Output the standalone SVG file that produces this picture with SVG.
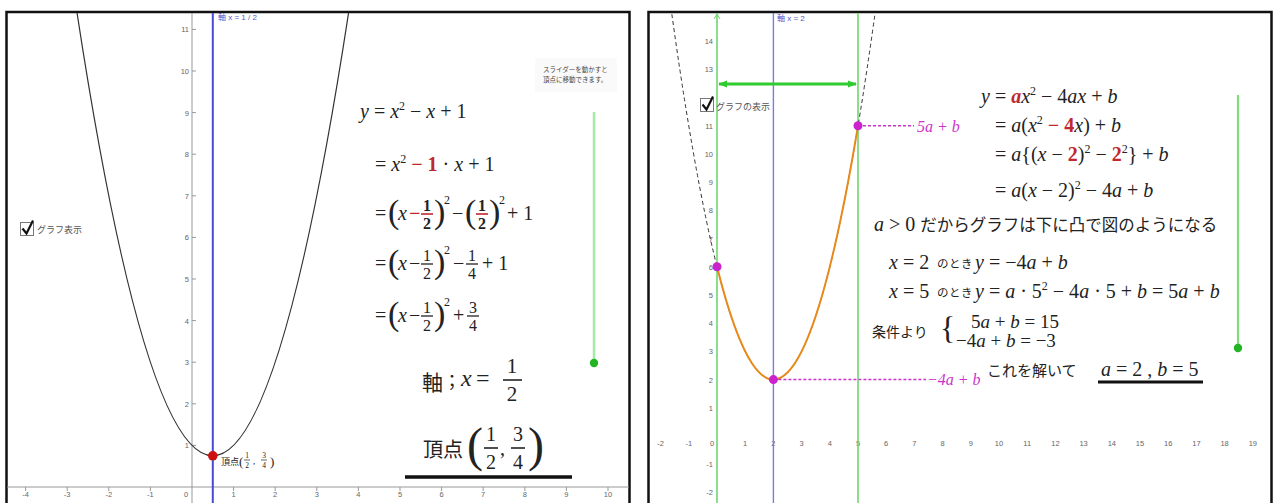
<svg xmlns="http://www.w3.org/2000/svg" width="1274" height="503" viewBox="0 0 1274 503">
<style>
.m{font-family:"Liberation Serif",serif;font-size:20px;fill:#222}
.i{font-style:italic}
.r{fill:#c0282d;font-weight:bold}
.sp{font-size:12px}
.fr{font-family:"Liberation Serif",serif;font-size:16px;fill:#222;text-anchor:middle}
.pa{font-family:"Liberation Serif",serif;font-size:34px;fill:#222}
.jp{font-family:"Noto Sans CJK JP",sans-serif;fill:#222}
.tk{font-family:"Liberation Sans",sans-serif;font-size:7.5px;fill:#666}
.tky{font-family:"Liberation Sans",sans-serif;font-size:7.5px;fill:#666;text-anchor:end}
.mg{font-family:"Liberation Serif",serif;font-size:16px;fill:#cc33cc;font-style:italic}
.bar{stroke:#222;stroke-width:1.3}
.rbar{stroke:#c0282d;stroke-width:1.6}
</style>
<defs>
<marker id="ga" viewBox="0 0 10 10" refX="9" refY="5" markerWidth="3" markerHeight="3" orient="auto-start-reverse">
<path d="M0,1 L10,5 L0,9 Z" fill="#2ecc2e"/>
</marker>
<clipPath id="clipL"><rect x="7" y="13" width="622" height="490"/></clipPath>
<clipPath id="clipR"><rect x="650" y="13" width="620" height="490"/></clipPath>
</defs>
<rect width="1274" height="503" fill="#fff"/>

<!-- LEFT PANEL -->
<g id="left-panel">
<rect x="6.5" y="12" width="623" height="500" fill="#fff" stroke="#111" stroke-width="2.5"/>
<g id="left-axes">
<line x1="192" y1="13" x2="192" y2="503" stroke="#999" stroke-width="1"/>
<line x1="7" y1="487" x2="629" y2="487" stroke="#999" stroke-width="1"/>
<g stroke="#999" stroke-width="1">
<path d="M25.6,487v4M67.2,487v4M108.8,487v4M150.4,487v4M233.6,487v4M275.2,487v4M316.8,487v4M358.4,487v4M400,487v4M441.6,487v4M483.2,487v4M524.8,487v4M566.4,487v4M608,487v4"/>
<path d="M192,445.4h4M192,403.8h4M192,362.2h4M192,320.6h4M192,279h4M192,237.4h4M192,195.8h4M192,154.2h4M192,112.6h4M192,71h4M192,29.4h4"/>
</g>
<g>
<text class="tk" x="25.6" y="497" text-anchor="middle">-4</text><text class="tk" x="67.2" y="497" text-anchor="middle">-3</text><text class="tk" x="108.8" y="497" text-anchor="middle">-2</text><text class="tk" x="150.4" y="497" text-anchor="middle">-1</text><text class="tk" x="186" y="497" text-anchor="middle">0</text><text class="tk" x="233.6" y="497" text-anchor="middle">1</text><text class="tk" x="275.2" y="497" text-anchor="middle">2</text><text class="tk" x="316.8" y="497" text-anchor="middle">3</text><text class="tk" x="358.4" y="497" text-anchor="middle">4</text><text class="tk" x="400" y="497" text-anchor="middle">5</text><text class="tk" x="441.6" y="497" text-anchor="middle">6</text><text class="tk" x="483.2" y="497" text-anchor="middle">7</text><text class="tk" x="524.8" y="497" text-anchor="middle">8</text><text class="tk" x="566.4" y="497" text-anchor="middle">9</text><text class="tk" x="608" y="497" text-anchor="middle">10</text>
</g>
<g>
<text class="tky" x="189" y="448">1</text><text class="tky" x="189" y="406.5">2</text><text class="tky" x="189" y="365">3</text><text class="tky" x="189" y="323.5">4</text><text class="tky" x="189" y="282">5</text><text class="tky" x="189" y="240">6</text><text class="tky" x="189" y="198.5">7</text><text class="tky" x="189" y="157">8</text><text class="tky" x="189" y="115.5">9</text><text class="tky" x="189" y="74">10</text><text class="tky" x="189" y="32">11</text>
</g>
</g>
<line id="left-axis-of-symmetry" x1="212.8" y1="13" x2="212.8" y2="503" stroke="#4a4ad6" stroke-width="2"/>
<text id="left-axis-label" x="218" y="20" font-family="'Liberation Sans','Noto Sans CJK JP',sans-serif" font-size="8" fill="#5555cc">軸 x = 1 / 2</text>
<path id="left-parabola" d="M75.5,2.8 Q212.8,908.8 350.1,2.8" fill="none" stroke="#333" stroke-width="1.2" clip-path="url(#clipL)"/>
<circle id="left-vertex" cx="212.8" cy="455.8" r="4.8" fill="#cc1111"/>
<g id="left-vertex-label">
<text x="221" y="465" class="jp" style="font-size:9px">頂点</text>
<text x="239" y="466" class="m" style="font-size:13px">(</text>
<text x="247" y="458" class="fr" style="font-size:7.5px">1</text><line x1="244" y1="460" x2="250" y2="460" class="bar" style="stroke-width:0.7"/><text x="247" y="467.5" class="fr" style="font-size:7.5px">2</text>
<text x="253" y="464" class="m" style="font-size:9px">,</text>
<text x="264" y="458" class="fr" style="font-size:7.5px">3</text><line x1="261" y1="460" x2="267" y2="460" class="bar" style="stroke-width:0.7"/><text x="264" y="467.5" class="fr" style="font-size:7.5px">4</text>
<text x="270" y="466" class="m" style="font-size:13px">)</text>
</g>
<g id="left-checkbox">
<rect x="20.5" y="222.5" width="13" height="13" fill="#fff" stroke="#777" stroke-width="1"/>
<path d="M22.5,228.5 L26.5,233.5 L33,220.5" fill="none" stroke="#111" stroke-width="2.2"/>
<text x="37" y="233" class="jp" style="font-size:9px;fill:#555">グラフ表示</text>
</g>
<g id="left-slider">
<rect x="535" y="58" width="82" height="34" fill="#fafafa"/>
<text x="543" y="72" class="jp" style="font-size:6.5px;fill:#444">スライダーを動かすと</text>
<text x="543" y="82" class="jp" style="font-size:6.5px;fill:#444">頂点に移動できます。</text>
<line x1="594" y1="112" x2="594" y2="363" stroke="#a8eaa8" stroke-width="2.5"/>
<circle cx="594" cy="363" r="4.2" fill="#22b422"/>
</g>
<g id="left-formula-1">
<text class="m" x="360" y="118"><tspan class="i">y</tspan> = <tspan class="i">x</tspan><tspan class="sp" dy="-8">2</tspan><tspan dy="8"> − </tspan><tspan class="i">x</tspan> + 1</text>
</g>
<g id="left-formula-2">
<text class="m" x="375" y="171">= <tspan class="i">x</tspan><tspan class="sp" dy="-8">2</tspan><tspan class="r" dy="8"> − 1</tspan> · <tspan class="i">x</tspan> + 1</text>
</g>
<g id="left-formula-3">
<text class="m" x="375" y="220">=</text>
<text class="pa" x="388" y="223">(</text>
<text class="m i" x="398" y="220">x</text>
<text class="m r" x="409" y="220">−</text>
<text class="fr r" x="427" y="211">1</text><line class="rbar" x1="421" y1="214" x2="433" y2="214"/><text class="fr r" x="427" y="229">2</text>
<text class="pa" x="434" y="223">)</text>
<text class="m sp" x="444" y="204">2</text>
<text class="m" x="452" y="220">−</text>
<text class="pa" x="465" y="223">(</text>
<text class="fr r" x="482" y="211">1</text><line class="rbar" x1="476" y1="214" x2="488" y2="214"/><text class="fr r" x="482" y="229">2</text>
<text class="pa" x="489" y="223">)</text>
<text class="m sp" x="499" y="204">2</text>
<text class="m" x="507" y="220">+ 1</text>
</g>
<g id="left-formula-4">
<text class="m" x="375" y="270">=</text>
<text class="pa" x="388" y="273">(</text>
<text class="m i" x="398" y="270">x</text>
<text class="m" x="409" y="270">−</text>
<text class="fr" x="427" y="261">1</text><line class="bar" x1="421" y1="264" x2="433" y2="264"/><text class="fr" x="427" y="279">2</text>
<text class="pa" x="434" y="273">)</text>
<text class="m sp" x="444" y="254">2</text>
<text class="m" x="453" y="270">−</text>
<text class="fr" x="472" y="261">1</text><line class="bar" x1="466" y1="264" x2="478" y2="264"/><text class="fr" x="472" y="279">4</text>
<text class="m" x="482" y="270">+ 1</text>
</g>
<g id="left-formula-5">
<text class="m" x="375" y="322">=</text>
<text class="pa" x="388" y="325">(</text>
<text class="m i" x="398" y="322">x</text>
<text class="m" x="409" y="322">−</text>
<text class="fr" x="427" y="313">1</text><line class="bar" x1="421" y1="316" x2="433" y2="316"/><text class="fr" x="427" y="331">2</text>
<text class="pa" x="434" y="325">)</text>
<text class="m sp" x="444" y="306">2</text>
<text class="m" x="453" y="322">+</text>
<text class="fr" x="473" y="313">3</text><line class="bar" x1="467" y1="316" x2="479" y2="316"/><text class="fr" x="473" y="331">4</text>
</g>
<g id="left-axis-result">
<text class="jp" x="422" y="390" style="font-size:21px">軸</text>
<text class="jp" x="452" y="388" style="font-size:18px" text-anchor="middle">；</text>
<text class="m i" x="461" y="386" style="font-size:24px">x</text>
<text class="m" x="476" y="386" style="font-size:24px">=</text>
<text class="fr" x="512" y="373" style="font-size:21px">1</text><line class="bar" x1="503" y1="380" x2="522" y2="380" style="stroke-width:1.6"/><text class="fr" x="512" y="401" style="font-size:21px">2</text>
</g>
<g id="left-vertex-result">
<text class="jp" x="423" y="457" style="font-size:20px">頂点</text>
<text class="pa" x="467" y="461" style="font-size:48px">(</text>
<text class="fr" x="491" y="441" style="font-size:20px">1</text><line class="bar" x1="484" y1="448" x2="498" y2="448" style="stroke-width:1.6"/><text class="fr" x="491" y="469" style="font-size:20px">2</text>
<text class="m" x="500" y="455">,</text>
<text class="fr" x="518" y="441" style="font-size:20px">3</text><line class="bar" x1="511" y1="448" x2="525" y2="448" style="stroke-width:1.6"/><text class="fr" x="518" y="469" style="font-size:20px">4</text>
<text class="pa" x="528" y="461" style="font-size:48px">)</text>
<line x1="405" y1="477" x2="572" y2="477" stroke="#111" stroke-width="3.5"/>
</g>
</g>

<!-- RIGHT PANEL -->
<g id="right-panel">
<rect x="648.5" y="12" width="623" height="500" fill="#fff" stroke="#111" stroke-width="2.5"/>
<g id="right-ticks">
<text class="tk" x="660.6" y="446" text-anchor="middle">-2</text><text class="tk" x="688.8" y="446" text-anchor="middle">-1</text><text class="tk" x="712" y="446" text-anchor="middle">0</text><text class="tk" x="745.2" y="446" text-anchor="middle">1</text><text class="tk" x="773.4" y="446" text-anchor="middle">2</text><text class="tk" x="801.6" y="446" text-anchor="middle">3</text><text class="tk" x="829.8" y="446" text-anchor="middle">4</text><text class="tk" x="858" y="446" text-anchor="middle">5</text><text class="tk" x="886.2" y="446" text-anchor="middle">6</text><text class="tk" x="914.4" y="446" text-anchor="middle">7</text><text class="tk" x="942.6" y="446" text-anchor="middle">8</text><text class="tk" x="970.8" y="446" text-anchor="middle">9</text><text class="tk" x="999" y="446" text-anchor="middle">10</text><text class="tk" x="1027.2" y="446" text-anchor="middle">11</text><text class="tk" x="1055.4" y="446" text-anchor="middle">12</text><text class="tk" x="1083.6" y="446" text-anchor="middle">13</text><text class="tk" x="1111.8" y="446" text-anchor="middle">14</text><text class="tk" x="1140" y="446" text-anchor="middle">15</text><text class="tk" x="1168.2" y="446" text-anchor="middle">16</text><text class="tk" x="1196.4" y="446" text-anchor="middle">17</text><text class="tk" x="1224.6" y="446" text-anchor="middle">18</text><text class="tk" x="1252.8" y="446" text-anchor="middle">19</text>
<text class="tky" x="713" y="44">14</text><text class="tky" x="713" y="72">13</text><text class="tky" x="713" y="128.5">11</text><text class="tky" x="713" y="157">10</text><text class="tky" x="713" y="185">9</text><text class="tky" x="713" y="213">8</text><text class="tky" x="713" y="241.5">7</text><text class="tky" x="713" y="269.5">6</text><text class="tky" x="713" y="298">5</text><text class="tky" x="713" y="326">4</text><text class="tky" x="713" y="354">3</text><text class="tky" x="713" y="382.5">2</text><text class="tky" x="713" y="410.5">1</text><text class="tky" x="713" y="467">-1</text><text class="tky" x="713" y="495">-2</text>
</g>
<g id="right-lines">
<line x1="717" y1="13" x2="717" y2="503" stroke="#6fd66f" stroke-width="1.6"/>
<line x1="858" y1="13" x2="858" y2="503" stroke="#6fd66f" stroke-width="1.6"/>
<line x1="773.4" y1="13" x2="773.4" y2="503" stroke="#7b7be6" stroke-width="1.4"/>
<path d="M714,19 L717,14 L720,19" fill="none" stroke="#6fd66f" stroke-width="1"/>
<line x1="719" y1="84" x2="856" y2="84" stroke="#2ecc2e" stroke-width="3" marker-start="url(#ga)" marker-end="url(#ga)"/>
</g>
<text id="right-axis-label" x="777" y="21" font-family="'Liberation Sans','Noto Sans CJK JP',sans-serif" font-size="8" fill="#5555cc">軸 x = 2</text>
<path id="right-parabola-dashed" d="M666.2,-27.6 Q773.4,786.8 880.6,-27.6" fill="none" stroke="#333" stroke-width="1" stroke-dasharray="4,3" clip-path="url(#clipR)"/>
<path id="right-parabola" d="M717,266.8 Q787.5,548.8 858,125.8" fill="none" stroke="#e8891c" stroke-width="2"/>
<g id="right-guides">
<line x1="858" y1="125.8" x2="914" y2="125.8" stroke="#cc33cc" stroke-width="1.5" stroke-dasharray="3,2"/>
<line x1="773.4" y1="379.6" x2="926" y2="379.6" stroke="#cc33cc" stroke-width="1.5" stroke-dasharray="3,2"/>
</g>
<circle cx="717" cy="266.8" r="4.5" fill="#cc22cc"/>
<circle cx="858" cy="125.8" r="4.5" fill="#cc22cc"/>
<circle cx="773.4" cy="379.6" r="4.5" fill="#cc22cc"/>
<text class="mg" x="917" y="132">5a + b</text>
<text class="mg" x="927" y="385">−4a + b</text>
<g id="right-checkbox">
<rect x="700.5" y="98.5" width="13" height="13" fill="#fff" stroke="#777" stroke-width="1"/>
<path d="M702.5,104.5 L706.5,109.5 L713,96.5" fill="none" stroke="#111" stroke-width="2.2"/>
<text x="716" y="110" class="jp" style="font-size:9px;fill:#555">グラフの表示</text>
</g>
<g id="right-slider">
<line x1="1238" y1="95" x2="1238" y2="348" stroke="#80dc80" stroke-width="2.2"/>
<circle cx="1238" cy="348" r="4.2" fill="#22b422"/>
</g>
<g id="right-formula-1"><text class="m" x="981" y="103"><tspan class="i">y</tspan> = <tspan class="i r">a</tspan><tspan class="i">x</tspan><tspan class="sp" dy="-8">2</tspan><tspan dy="8"> − 4</tspan><tspan class="i">ax</tspan> + <tspan class="i">b</tspan></text></g>
<g id="right-formula-2"><text class="m" x="995" y="132">= <tspan class="i">a</tspan>(<tspan class="i">x</tspan><tspan class="sp" dy="-8">2</tspan><tspan class="r" dy="8"> − 4</tspan><tspan class="i">x</tspan>) + <tspan class="i">b</tspan></text></g>
<g id="right-formula-3"><text class="m" x="995" y="161">= <tspan class="i">a</tspan>{(<tspan class="i">x</tspan> − <tspan class="r">2</tspan>)<tspan class="sp" dy="-8">2</tspan><tspan dy="8"> − </tspan><tspan class="r">2</tspan><tspan class="sp" dy="-8">2</tspan><tspan dy="8">} + </tspan><tspan class="i">b</tspan></text></g>
<g id="right-formula-4"><text class="m" x="995" y="197">= <tspan class="i">a</tspan>(<tspan class="i">x</tspan> − 2)<tspan class="sp" dy="-8">2</tspan><tspan dy="8"> − 4</tspan><tspan class="i">a</tspan> + <tspan class="i">b</tspan></text></g>
<g id="right-statement"><text class="m" x="874" y="231"><tspan class="i">a</tspan> &gt; 0 <tspan class="jp" style="font-size:16.5px">だからグラフは下に凸で図のようになる</tspan></text></g>
<g id="right-case-2">
<text class="m" x="889" y="269"><tspan class="i">x</tspan> = 2</text>
<text class="jp" x="937" y="268" style="font-size:11.5px;letter-spacing:0.5px">のとき</text>
<text class="m" x="975" y="269"><tspan class="i">y</tspan> = −4<tspan class="i">a</tspan> + <tspan class="i">b</tspan></text>
</g>
<g id="right-case-5">
<text class="m" x="889" y="298"><tspan class="i">x</tspan> = 5</text>
<text class="jp" x="937" y="297" style="font-size:11.5px;letter-spacing:0.5px">のとき</text>
<text class="m" x="975" y="298"><tspan class="i">y</tspan> = <tspan class="i">a</tspan> · 5<tspan class="sp" dy="-8">2</tspan><tspan dy="8"> − 4</tspan><tspan class="i">a</tspan> · 5 + <tspan class="i">b</tspan> = 5<tspan class="i">a</tspan> + <tspan class="i">b</tspan></text>
</g>
<g id="right-system">
<text class="jp" x="872" y="337" style="font-size:14px">条件より</text>
<text class="m" x="940" y="339" style="font-size:32px">{</text>
<text class="m" x="971" y="328" style="font-size:19px">5<tspan class="i">a</tspan> + <tspan class="i">b</tspan> = 15</text>
<text class="m" x="956" y="347" style="font-size:19px">−4<tspan class="i">a</tspan> + <tspan class="i">b</tspan> = −3</text>
</g>
<g id="right-answer">
<text class="jp" x="987" y="376" style="font-size:15px">これを解いて</text>
<text class="m" x="1101" y="376"><tspan class="i">a</tspan> = 2 , <tspan class="i">b</tspan> = 5</text>
<line x1="1098" y1="382" x2="1203" y2="382" stroke="#111" stroke-width="3"/>
</g>
</g>
</svg>
